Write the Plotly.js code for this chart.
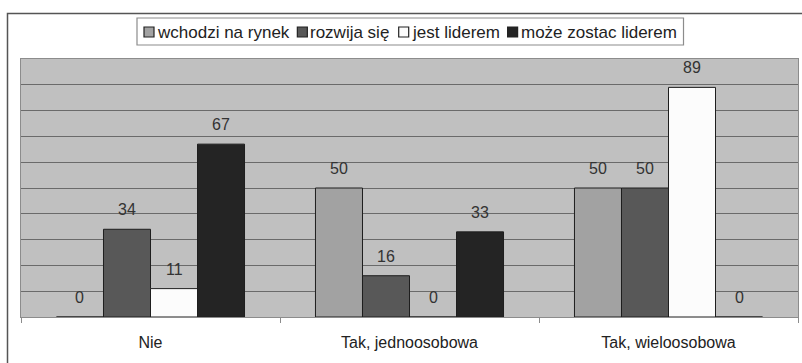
<!DOCTYPE html>
<html>
<head>
<meta charset="utf-8">
<script src="https://cdn.plot.ly/plotly-3.0.1.min.js"></script>
<style>
  html, body { margin: 0; padding: 0; background: #ffffff; }
  #chart { width: 802px; height: 363px; }
</style>
</head>
<body>
<div id="chart"></div>
<script>
// Answer categories on the x axis
const categories = ['Nie', 'Tak, jednoosobowa', 'Tak, wieloosobowa'];

// Series names (legend)
const seriesNames = ['wchodzi na rynek', 'rozwija się', 'jest liderem', 'może zostac liderem'];

// Values per series, one per category
const wchodziNaRynek = [0, 50, 50];
const rozwijaSie = [34, 16, 50];
const jestLiderem = [11, 0, 89];
const mozeZostacLiderem = [67, 33, 0];

const seriesValues = [wchodziNaRynek, rozwijaSie, jestLiderem, mozeZostacLiderem];
const seriesColors = ['#a2a2a2', '#585858', '#fcfcfc', '#242424'];

const FONT = 'Arial, "Liberation Sans", sans-serif';
const W = 802, H = 363;
const M = { l: 21, r: 4, t: 59, b: 46 };
const plotW = W - M.l - M.r;
const plotH = H - M.t - M.b;
const BARGAP = 0.274;

// pixel -> paper helpers for the decorative frame and legend
const px = x => (x - M.l) / plotW;
const py = y => (H - M.b - y) / plotH;

const traces = seriesValues.map((vals, i) => ({
  type: 'bar',
  name: seriesNames[i],
  x: categories,
  y: vals,
  marker: { color: seriesColors[i], line: { color: '#1e1e1e', width: 1 } },
  showlegend: false,
  hoverinfo: 'skip'
}));

// value labels above each bar, placed through the category/value axes
const nS = seriesValues.length;
const barW = (1 - BARGAP) / nS;
const annotations = [];
seriesValues.forEach((vals, i) => {
  vals.forEach((v, c) => {
    annotations.push({
      xref: 'x', yref: 'y',
      x: c + (i - (nS - 1) / 2) * barW,
      y: v,
      text: String(v),
      showarrow: false,
      xanchor: 'center', yanchor: 'bottom',
      yshift: 9,
      font: { family: FONT, size: 16, color: '#333333' }
    });
  });
});

// legend: box, swatches and names, laid out by measured text width
const LEG_FONT = 17;
const ctx = document.createElement('canvas').getContext('2d');
ctx.font = LEG_FONT + 'px Arial, "Liberation Sans", sans-serif';
const shapes = [];
let cx = 144;
const swTop = 27, swBot = 37, legMid = 32;
seriesNames.forEach((name, i) => {
  shapes.push({
    type: 'rect', xref: 'paper', yref: 'paper',
    x0: px(cx), x1: px(cx + 10), y0: py(swBot), y1: py(swTop),
    fillcolor: seriesColors[i], line: { color: '#222222', width: 1.2 }
  });
  annotations.push({
    xref: 'paper', yref: 'paper',
    x: px(cx + 11), y: py(legMid),
    xanchor: 'left', yanchor: 'middle',
    text: name, showarrow: false,
    font: { family: FONT, size: LEG_FONT, color: '#222222' }
  });
  cx = cx + 12 + ctx.measureText(name).width + 10;
});
const legRight = cx - 10 + 8;
shapes.unshift({
  type: 'rect', xref: 'paper', yref: 'paper',
  x0: px(137), x1: px(legRight), y0: py(45), y1: py(18),
  fillcolor: '#ffffff', line: { color: '#8c8c8c', width: 1.2 }, layer: 'below'
});
// outer chart frame
shapes.push({
  type: 'rect', xref: 'paper', yref: 'paper',
  x0: px(7.5), x1: px(W + 5), y0: py(H + 5), y1: py(13.5),
  line: { color: '#555555', width: 1.5 }, fillcolor: 'rgba(0,0,0,0)'
});

const layout = {
  width: W, height: H,
  margin: M,
  paper_bgcolor: '#ffffff',
  plot_bgcolor: '#c0c0c0',
  barmode: 'group',
  bargap: BARGAP,
  bargroupgap: 0,
  showlegend: false,
  font: { family: FONT, size: 16, color: '#222222' },
  xaxis: {
    type: 'category',
    showgrid: false,
    showline: true, linecolor: '#8c8c8c', linewidth: 1, mirror: true,
    ticks: 'outside', tickson: 'boundaries', ticklen: 5, tickcolor: '#8c8c8c',
    tickfont: { family: FONT, size: 16, color: '#222222' },
    ticklabelstandoff: 11,
    fixedrange: true
  },
  yaxis: {
    range: [0, 100], dtick: 10,
    showticklabels: false, ticks: '',
    showgrid: true, gridcolor: '#6a6a6a', gridwidth: 1,
    zeroline: false,
    showline: true, linecolor: '#8c8c8c', linewidth: 1, mirror: true,
    fixedrange: true
  },
  shapes: shapes,
  annotations: annotations
};

Plotly.newPlot('chart', traces, layout, { displayModeBar: false, staticPlot: true });
</script>
</body>
</html>
